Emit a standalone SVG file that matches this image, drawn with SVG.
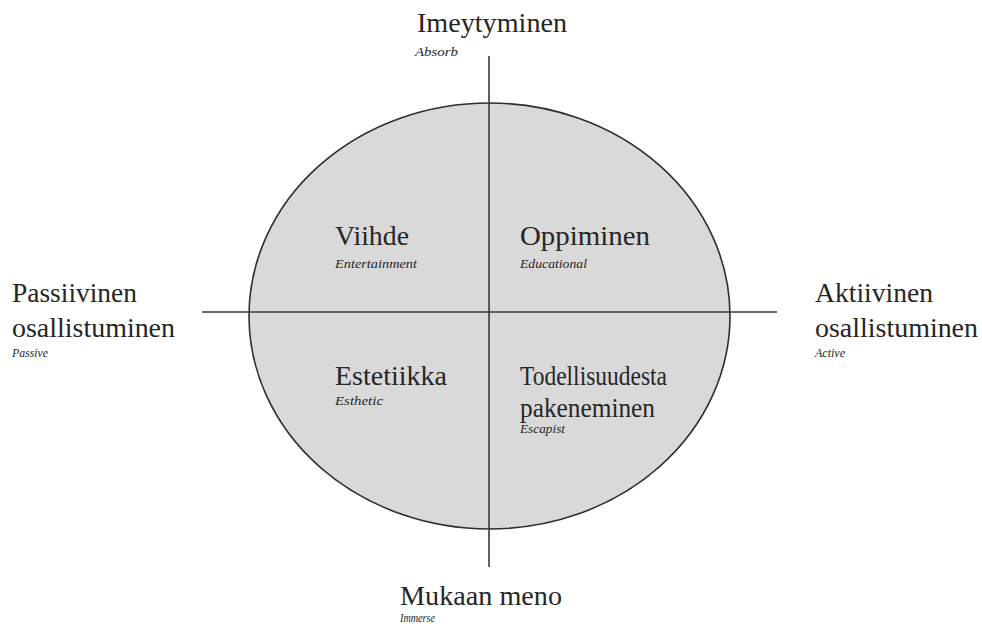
<svg xmlns="http://www.w3.org/2000/svg" width="982" height="631" viewBox="0 0 982 631">
<style>
.t{font-family:"Liberation Serif","DejaVu Serif",serif;font-size:27px;fill:#262626}
.s{font-family:"Liberation Serif","DejaVu Serif",serif;font-size:12px;font-style:italic;fill:#262626}
.ax{stroke:#3a3a3a;stroke-width:1.6;fill:none}
</style>
<rect width="982" height="631" fill="#ffffff"/>
<g id="ellipse">
<ellipse cx="489.5" cy="316" rx="240.5" ry="213" fill="#d9d9d9" stroke="#2e2e2e" stroke-width="1.6"/>
</g>
<g id="connectors">
<line class="ax" x1="489" y1="56" x2="489" y2="567"/>
<line class="ax" x1="202" y1="312" x2="777" y2="312"/>
</g>
<g id="top">
<text class="t" x="417" y="32" textLength="150" lengthAdjust="spacingAndGlyphs">Imeytyminen</text>
<text class="s" x="415" y="56" textLength="43" lengthAdjust="spacingAndGlyphs">Absorb</text>
</g>
<g id="left">
<text class="t" x="12" y="302" textLength="125" lengthAdjust="spacingAndGlyphs">Passiivinen</text>
<text class="t" x="12" y="337" textLength="163" lengthAdjust="spacingAndGlyphs">osallistuminen</text>
<text class="s" x="12" y="357" textLength="36" lengthAdjust="spacingAndGlyphs">Passive</text>
</g>
<g id="right">
<text class="t" x="815" y="302" textLength="118" lengthAdjust="spacingAndGlyphs">Aktiivinen</text>
<text class="t" x="815" y="337" textLength="163" lengthAdjust="spacingAndGlyphs">osallistuminen</text>
<text class="s" x="815" y="357" textLength="30" lengthAdjust="spacingAndGlyphs">Active</text>
</g>
<g id="viihde">
<text class="t" x="335" y="245" textLength="74" lengthAdjust="spacingAndGlyphs">Viihde</text>
<text class="s" x="335" y="268" textLength="82" lengthAdjust="spacingAndGlyphs">Entertainment</text>
</g>
<g id="oppiminen">
<text class="t" x="520" y="245" textLength="130" lengthAdjust="spacingAndGlyphs">Oppiminen</text>
<text class="s" x="520" y="268" textLength="67" lengthAdjust="spacingAndGlyphs">Educational</text>
</g>
<g id="estetiikka">
<text class="t" x="335" y="385" textLength="112" lengthAdjust="spacingAndGlyphs">Estetiikka</text>
<text class="s" x="335" y="405" textLength="48" lengthAdjust="spacingAndGlyphs">Esthetic</text>
</g>
<g id="todellisuudesta">
<text class="t" x="520" y="385" textLength="147" lengthAdjust="spacingAndGlyphs">Todellisuudesta</text>
<text class="t" x="520" y="417" textLength="135" lengthAdjust="spacingAndGlyphs">pakeneminen</text>
<text class="s" x="520" y="433" textLength="45" lengthAdjust="spacingAndGlyphs">Escapist</text>
</g>
<g id="bottom">
<text class="t" x="400" y="605" textLength="162" lengthAdjust="spacingAndGlyphs">Mukaan meno</text>
<text class="s" x="400" y="622" textLength="35" lengthAdjust="spacingAndGlyphs">Immerse</text>
</g>
</svg>
